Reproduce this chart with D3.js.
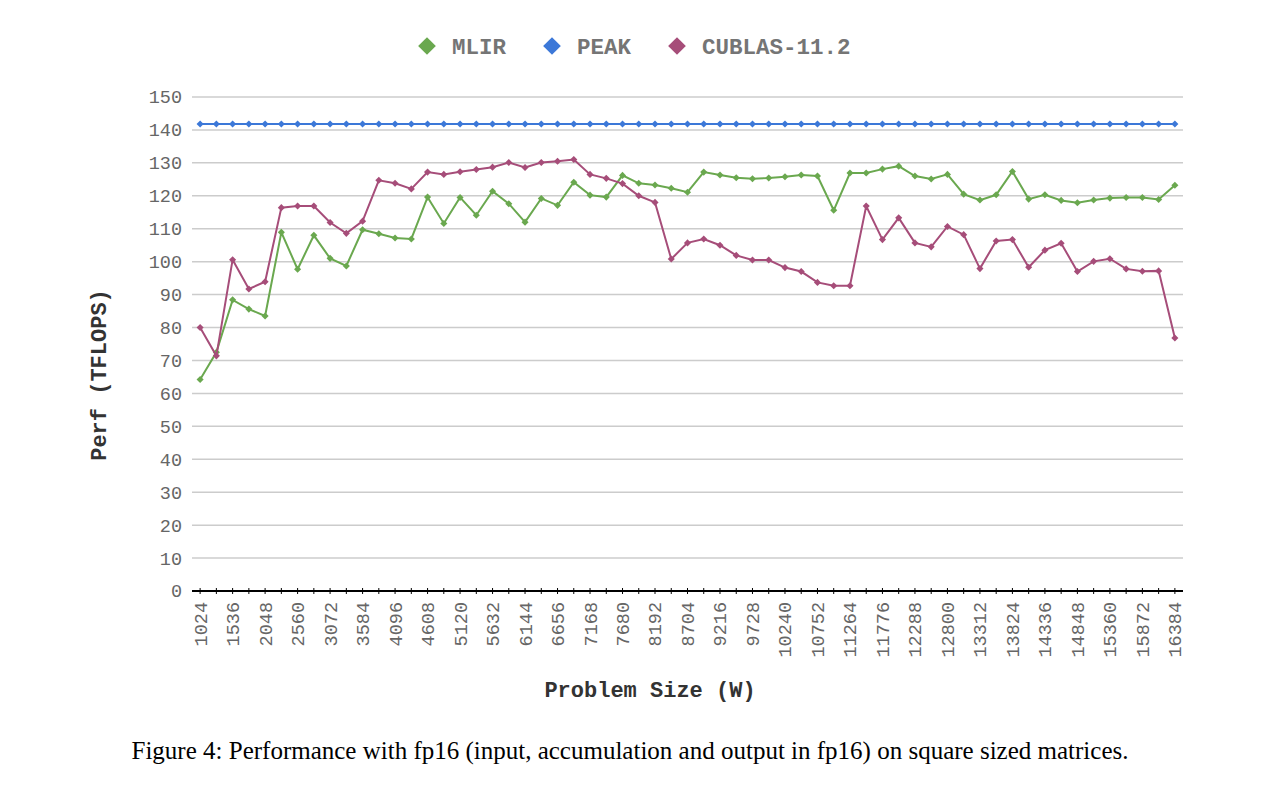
<!DOCTYPE html>
<html><head><meta charset="utf-8">
<script src="https://cdn.jsdelivr.net/npm/d3@7"></script>
<style>body{margin:0;background:#fff}</style>
</head><body>
<svg id="c" width="1284" height="787"></svg>
<script>
const sizes = d3.range(1024, 16385, 256);
const mlir = [64.2,72.5,88.4,85.6,83.5,108.9,97.7,108,101,98.7,109.7,108.5,107.2,106.9,119.6,111.6,119.5,114.1,121.4,117.6,112,119.2,117.1,124.1,120.2,119.6,126.2,123.8,123.3,122.3,121.1,127.2,126.3,125.5,125.2,125.4,125.8,126.3,126,115.6,126.9,126.9,128.1,129,126,125.1,126.5,120.5,118.7,120.3,127.4,119,120.3,118.6,117.9,118.7,119.3,119.5,119.5,118.9,123.2];
const peak = sizes.map(() => 141.8);
const cublas = [80,71.4,100.6,91.7,93.9,116.4,116.9,116.9,111.9,108.6,112.3,124.7,123.8,122.1,127.2,126.5,127.3,128,128.7,130.1,128.6,130.1,130.5,131,126.5,125.3,123.7,120,118,100.8,105.7,106.9,105,101.9,100.5,100.5,98.2,97,93.7,92.7,92.7,116.9,106.7,113.3,105.7,104.5,110.7,108.2,97.9,106.3,106.7,98.3,103.5,105.6,97,100.1,100.9,97.8,97.1,97.2,76.8];
const yTicks = d3.range(0, 151, 10);
const seriesNames = ["MLIR", "PEAK", "CUBLAS-11.2"];
const colors = ["#6aa84f", "#3c78d8", "#a64d79"];
const caption = "Figure 4: Performance with fp16 (input, accumulation and output in fp16) on square sized matrices.";

const svg = d3.select("#c");
const mono = "'Liberation Mono', 'Courier New', monospace";
const x = d3.scalePoint().domain(sizes).range([192, 1183]).padding(0.5);
const y = d3.scaleLinear().domain([0, 150]).range([591, 97]);

// gridlines
svg.append("g").selectAll("line").data(yTicks.filter(d => d > 0)).join("line")
  .attr("x1", 192).attr("x2", 1183)
  .attr("y1", d => y(d)).attr("y2", d => y(d))
  .attr("stroke", "#cccccc").attr("stroke-width", 1.5);

// y labels
svg.append("g").selectAll("text").data(yTicks).join("text")
  .attr("x", 182).attr("y", d => y(d)).attr("dy", "0.35em")
  .attr("text-anchor", "end").attr("font-family", mono).attr("font-size", 18.5)
  .attr("fill", "#666").text(d => d);

// zero axis line with ticks
svg.append("line").attr("x1", 192).attr("x2", 1183).attr("y1", y(0)).attr("y2", y(0))
  .attr("stroke", "#000").attr("stroke-width", 2);
svg.append("g").selectAll("line").data(sizes).join("line")
  .attr("x1", d => x(d)).attr("x2", d => x(d))
  .attr("y1", y(0) - 3).attr("y2", y(0) + 3)
  .attr("stroke", "#000").attr("stroke-width", 1);

// x labels
svg.append("g").selectAll("text").data(sizes.filter((d, i) => i % 2 === 0)).join("text")
  .attr("transform", d => `translate(${x(d)},602) rotate(-90)`)
  .attr("dy", "0.35em").attr("text-anchor", "end")
  .attr("font-family", mono).attr("font-size", 18.5).attr("fill", "#666").text(d => d);

// series
const allData = [mlir, peak, cublas];
const line = d3.line().x((d, i) => x(sizes[i])).y(d => y(d));
const diamond = d3.symbol().type(d3.symbolDiamond2).size(32);
allData.forEach((vals, k) => {
  svg.append("path").datum(vals).attr("d", line)
    .attr("fill", "none").attr("stroke", colors[k]).attr("stroke-width", 2);
  svg.append("g").selectAll("path").data(vals).join("path")
    .attr("transform", (d, i) => `translate(${x(sizes[i])},${y(d)})`)
    .attr("d", diamond).attr("fill", colors[k]);
});

// legend
const legX = [427, 552, 677];
const bigDiamond = d3.symbol().type(d3.symbolDiamond2).size(200);
seriesNames.forEach((n, k) => {
  svg.append("path").attr("transform", `translate(${legX[k]},46)`).attr("d", bigDiamond).attr("fill", colors[k]);
  svg.append("text").attr("x", legX[k] + 25).attr("y", 46).attr("dy", "0.35em")
    .attr("font-family", mono).attr("font-size", 22.5).attr("font-weight", "bold")
    .attr("fill", "#757575").text(n);
});

// axis titles
svg.append("text").attr("x", 650).attr("y", 689).attr("dy", "0.35em").attr("text-anchor", "middle")
  .attr("font-family", mono).attr("font-size", 22).attr("font-weight", "bold").attr("fill", "#333")
  .text("Problem Size (W)");
svg.append("text").attr("transform", "translate(98,375) rotate(-90)").attr("dy", "0.35em")
  .attr("text-anchor", "middle").attr("font-family", mono).attr("font-size", 22)
  .attr("font-weight", "bold").attr("fill", "#333").text("Perf (TFLOPS)");

// caption
svg.append("text").attr("x", 630).attr("y", 750).attr("dy", "0.35em").attr("text-anchor", "middle")
  .attr("font-family", "'Liberation Serif', 'Times New Roman', serif").attr("font-size", 25)
  .attr("fill", "#000").text(caption);
</script>
</body></html>
